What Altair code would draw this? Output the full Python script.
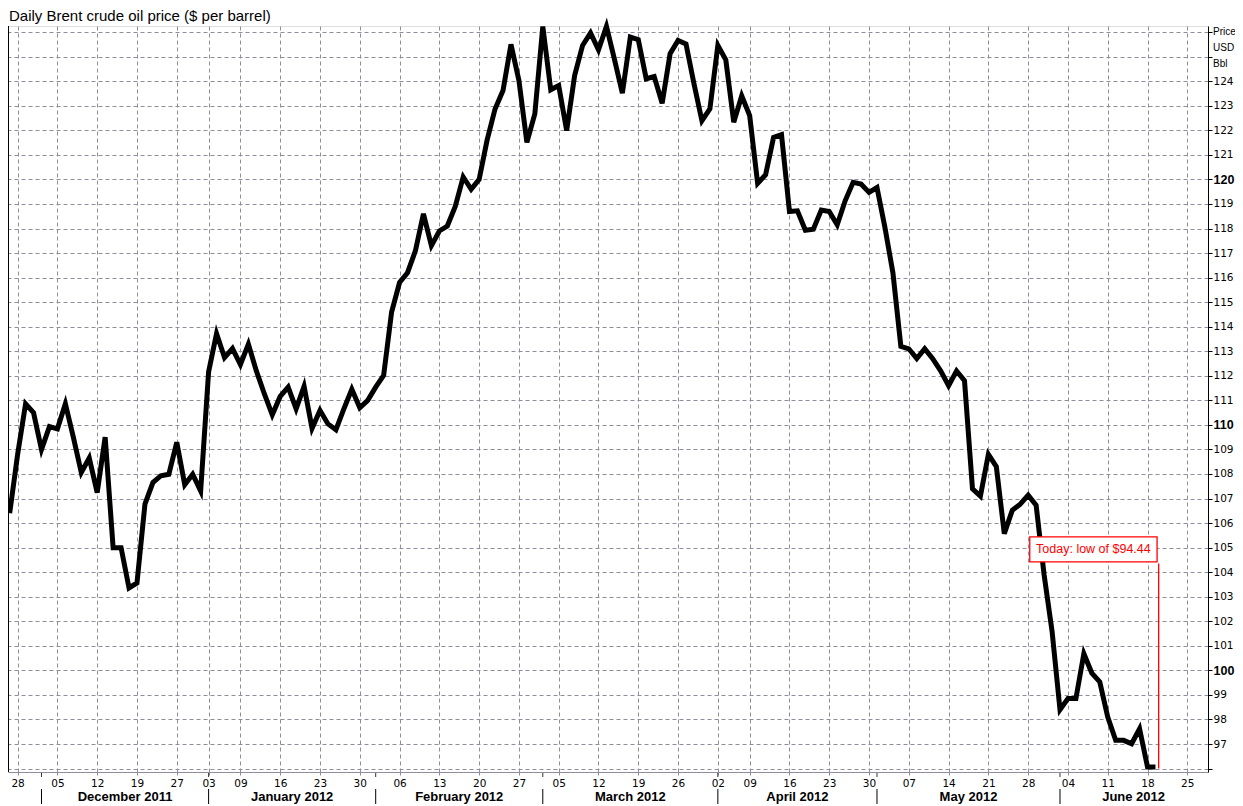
import altair as alt
import pandas as pd

TITLE = "Daily Brent crude oil price ($ per barrel)"

# Daily Brent price, one value per trading day (25 Nov 2011 .. 19 Jun 2012)
price = [
    106.4, 108.8, 110.86, 110.5, 109.0, 109.93, 109.84, 110.86, 109.5, 108.06,
    108.65, 107.24, 109.5, 105.0, 105.0, 103.36, 103.56, 106.77, 107.65, 107.93,
    107.99, 109.29, 107.56, 107.99, 107.31, 112.16, 113.72, 112.74, 113.11, 112.46,
    113.29, 112.2, 111.27, 110.41, 111.16, 111.54, 110.65, 111.57, 109.86, 110.59,
    110.04, 109.8, 110.65, 111.45, 110.7, 111.0, 111.54, 112.02, 114.6, 115.8,
    116.2, 117.1, 118.6, 117.3, 117.9, 118.1, 118.9, 120.1, 119.6, 120.0,
    121.6, 122.87, 123.62, 125.5, 124.03, 121.51, 122.67, 126.23, 123.65, 123.82,
    121.99, 124.23, 125.46, 125.97, 125.28, 126.23, 124.9, 123.51, 125.8, 125.69,
    124.1, 124.19, 123.1, 125.12, 125.66, 125.52, 123.9, 122.39, 122.87, 125.46,
    124.87, 122.33, 123.41, 122.6, 119.84, 120.19, 121.71, 121.82, 118.69, 118.72,
    117.93, 117.97, 118.75, 118.69, 118.15, 119.13, 119.88, 119.81, 119.47, 119.67,
    118.04, 116.2, 113.2, 113.1, 112.7, 113.1, 112.7, 112.2, 111.6, 112.2,
    111.8, 107.4, 107.1, 108.8, 108.3, 105.57, 106.52, 106.77, 107.14, 106.73,
    103.9, 101.6, 98.4, 98.85, 98.85, 100.68, 99.89, 99.53, 98.1, 97.15,
    97.15, 97.01, 97.62, 96.06, 96.06,
]
day_index = list(range(len(price)))

# weekly ticks (trading-day index) and their labels
week_tick_idx = [1, 6, 11, 16, 21, 25, 29, 34, 39, 44, 49, 54, 59, 64, 69, 74,
                 79, 84, 89, 93, 98, 103, 108, 113, 118, 123, 128, 133, 138, 143, 148]
week_tick_lab = ["28", "05", "12", "19", "27", "03", "09", "16", "23", "30", "06",
                 "13", "20", "27", "05", "12", "19", "26", "02", "09", "16", "23",
                 "30", "07", "14", "21", "28", "04", "11", "18", "25"]

month_names = ["December 2011", "January 2012", "February 2012", "March 2012",
               "April 2012", "May 2012", "June 2012"]
month_start_idx = [4, 25, 46, 67, 89, 109, 132]
month_end_idx = [25, 46, 67, 89, 109, 132, 150.5]

y_grid_vals = list(range(96, 127))
y_label_vals = list(range(97, 125))
unit_lines = ["Price", "USD", "Bbl"]

# annotation
note_text = "Today: low of $94.44"
today_idx = 144.4
today_top = 104.35
today_bottom = 96.0
box_x = [128.2, 144.2]
box_y = [104.42, 105.44]

X_DOMAIN = [-0.21, 150.6]
Y_DOMAIN = [95.86, 126.25]
W, H = 1200, 746
GRID = "#8e8e9e"
FONT = "DejaVu Sans"
BOLD_TEST = "datum.value % 10 === 0"

xscale = alt.Scale(domain=X_DOMAIN, nice=False, zero=False)
yscale = alt.Scale(domain=Y_DOMAIN, nice=False, zero=False)

x_label_expr = "[" + ",".join(f"'{s}'" for s in week_tick_lab) + "][indexof([" + \
    ",".join(str(v) for v in week_tick_idx) + "], datum.value)]"
y_label_expr = "indexof([" + ",".join(str(v) for v in y_label_vals) + \
    "], datum.value) >= 0 ? datum.label : ''"

xaxis = alt.Axis(values=week_tick_idx, labelExpr=x_label_expr, grid=True,
                 gridDash=[4, 3], gridColor=GRID, gridWidth=1,
                 domainColor=GRID, tickColor=GRID, tickSize=3,
                 labelFont=FONT, labelFontSize=10.5, labelColor="black",
                 labelPadding=3, labelOverlap=False, labelFlush=False,
                 title=None, orient="bottom")

yaxis = alt.Axis(orient="right", values=y_grid_vals, labelExpr=y_label_expr,
                 grid=True, gridDash=[4, 3], gridColor=GRID, gridWidth=1,
                 domainColor="black", tickColor="black", tickSize=4,
                 labelPadding=1, labelColor="black",
                 labelFont={"condition": {"test": BOLD_TEST, "value": "Liberation Sans"},
                            "value": FONT},
                 labelFontSize={"condition": {"test": BOLD_TEST, "value": 12.5},
                                "value": 10.5},
                 labelFontWeight={"condition": {"test": BOLD_TEST, "value": "bold"},
                                  "value": "normal"},
                 labelOverlap=False, labelFlush=False, title=None)

df = pd.DataFrame({"i": day_index, "p": price})

line = alt.Chart(df).mark_line(color="black", strokeWidth=5, strokeJoin="miter").encode(
    x=alt.X("i:Q", scale=xscale, axis=xaxis),
    y=alt.Y("p:Q", scale=yscale, axis=yaxis),
)

mdf = pd.DataFrame({
    "name": month_names,
    "s": month_start_idx,
    "mid": [(a + b) / 2 for a, b in zip(month_start_idx, month_end_idx)],
})

month_bars = alt.Chart(mdf).mark_rule(color="black", strokeWidth=1).encode(
    x=alt.X("s:Q", scale=xscale, axis=xaxis),
    y=alt.value(H + 17), y2=alt.value(H + 32),
)
month_ticks = alt.Chart(mdf).mark_rule(color="#333333", strokeWidth=1).encode(
    x=alt.X("s:Q", scale=xscale, axis=xaxis),
    y=alt.value(H + 1), y2=alt.value(H + 5),
)
month_text = alt.Chart(mdf).mark_text(font="Liberation Sans", fontWeight="bold",
                                       fontSize=13, color="black", baseline="middle").encode(
    x=alt.X("mid:Q", scale=xscale, axis=xaxis),
    y=alt.value(H + 25),
    text="name:N",
)

left_border = alt.Chart(pd.DataFrame({"a": [0]})).mark_rule(color="black", strokeWidth=1).encode(
    x=alt.value(0.5), y=alt.value(0), y2=alt.value(H),
)

title_mark = alt.Chart(pd.DataFrame({"t": [TITLE]})).mark_text(
    font="Liberation Sans", fontSize=15, color="black", align="left",
    baseline="alphabetic").encode(x=alt.value(1), y=alt.value(-5), text="t:N")

box_df = pd.DataFrame({"x1": [box_x[0]], "x2": [box_x[1]], "y1": [box_y[0]], "y2": [box_y[1]],
                       "xc": [(box_x[0] + box_x[1]) / 2], "yc": [(box_y[0] + box_y[1]) / 2],
                       "t": [note_text]})
box = alt.Chart(box_df).mark_rect(fill="white", stroke="#ff0000", strokeWidth=1.3).encode(
    x=alt.X("x1:Q", scale=xscale, axis=xaxis), x2="x2:Q",
    y=alt.Y("y1:Q", scale=yscale, axis=yaxis), y2="y2:Q",
)
box_text = alt.Chart(box_df).mark_text(color="#ff0000", font="Liberation Sans", fontSize=12.5,
                                       baseline="middle", align="center").encode(
    x=alt.X("xc:Q", scale=xscale, axis=xaxis),
    y=alt.Y("yc:Q", scale=yscale, axis=yaxis),
    text="t:N",
)
red_df = pd.DataFrame({"x": [today_idx], "y1": [today_top], "y2": [today_bottom]})
red_rule = alt.Chart(red_df).mark_rule(color="#ff0000", strokeWidth=1.3).encode(
    x=alt.X("x:Q", scale=xscale, axis=xaxis),
    y=alt.Y("y1:Q", scale=yscale, axis=yaxis), y2="y2:Q",
)

unit_layers = []
for k, word in enumerate(unit_lines):
    unit_layers.append(
        alt.Chart(pd.DataFrame({"t": [word]})).mark_text(
            font="Liberation Sans", fontSize=10, color="black", align="left",
            baseline="middle").encode(
            x=alt.value(W + 5), y=alt.value(6 + 16 * k), text="t:N")
    )

chart = alt.layer(
    line, month_bars, month_ticks, month_text, left_border, box, box_text, red_rule,
    title_mark, *unit_layers,
).properties(
    width=W, height=H,
    autosize=alt.AutoSizeParams(type="none"),
    padding={"left": 0, "top": 18, "right": 27, "bottom": 32},
).configure_view(stroke=GRID, strokeWidth=1).configure(background="white")

chart.save("out.html", embed_options={"renderer": "svg", "actions": False})
